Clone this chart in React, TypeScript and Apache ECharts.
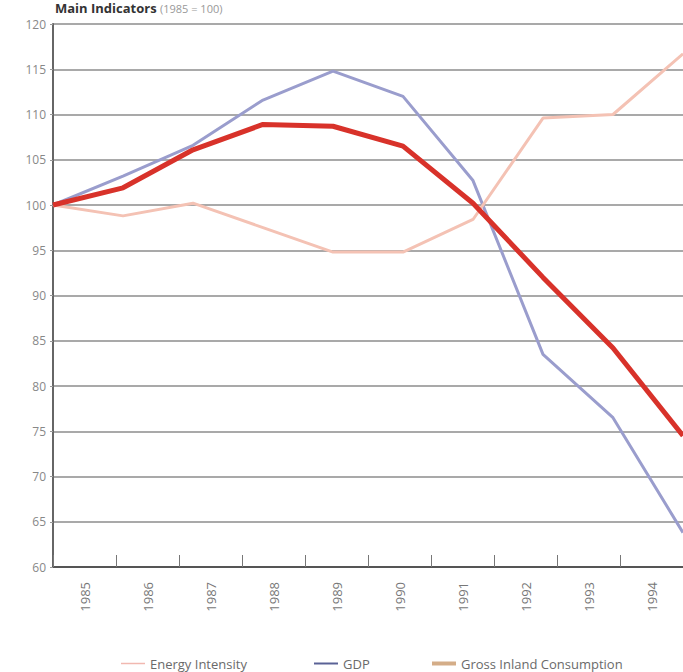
import React, { useEffect, useRef } from "react";
import * as echarts from "echarts";

const years = ["1985", "1986", "1987", "1988", "1989", "1990", "1991", "1992", "1993", "1994"];
const energyIntensity = [100, 98.8, 100.2, 97.5, 94.8, 94.8, 98.4, 109.6, 110.0, 116.7];
const gdp = [100, 103.2, 106.6, 111.6, 114.8, 112.0, 102.7, 83.5, 76.5, 63.8];
const grossInland = [100, 101.9, 106.1, 108.9, 108.7, 106.5, 100.2, 92.0, 84.2, 74.5];

const FONT = "'Open Sans', Lato, sans-serif";

export default function App() {
  const ref = useRef<HTMLDivElement>(null);
  useEffect(() => {
    if (!ref.current) return;
    const chart = echarts.init(ref.current, undefined, { renderer: "svg" });
    const legendText = { color: "#6a6a6a", fontSize: 13, fontFamily: FONT };
    chart.setOption({
      animation: false,
      backgroundColor: "#ffffff",
      textStyle: { fontFamily: FONT },
      graphic: [
        {
          type: "text",
          x: 55,
          y: 8,
          style: {
            text: "{a|Main Indicators} {b|(1985 = 100)}",
            verticalAlign: "middle",
            rich: {
              a: { fontSize: 13, fontWeight: "bold", fill: "#333", fontFamily: FONT },
              b: { fontSize: 11, fill: "#999", fontFamily: FONT },
            },
          },
        },
      ],
      legend: [
        {
          left: 116, top: 652, icon: "rect", itemWidth: 24, itemHeight: 1.5, itemGap: 10,
          textStyle: legendText, selectedMode: false,
          data: [{ name: "Energy Intensity", itemStyle: { color: "#f1b8b0" } }],
        },
        {
          left: 309, top: 652, icon: "rect", itemWidth: 24, itemHeight: 2, itemGap: 10,
          textStyle: legendText, selectedMode: false,
          data: [{ name: "GDP", itemStyle: { color: "#5a6296" } }],
        },
        {
          left: 427, top: 652, icon: "rect", itemWidth: 24, itemHeight: 4, itemGap: 10,
          textStyle: legendText, selectedMode: false,
          data: [{ name: "Gross Inland Consumption", itemStyle: { color: "#d4ad88" } }],
        },
      ],
      grid: { left: 53, right: 0, top: 24, bottom: 105, containLabel: false },
      xAxis: [
        { type: "category", data: years, boundaryGap: false, show: false },
        {
          type: "category",
          data: years,
          boundaryGap: true,
          position: "bottom",
          axisLine: { show: true, lineStyle: { color: "#555", width: 2 } },
          axisTick: { show: true, inside: true, length: 12, lineStyle: { color: "#777", width: 1 } },
          axisLabel: { rotate: 90, margin: 15, color: "#777", fontSize: 13, fontFamily: FONT },
          splitLine: { show: false },
        },
      ],
      yAxis: {
        type: "value",
        min: 60,
        max: 120,
        interval: 5,
        axisLine: { show: true, lineStyle: { color: "#666", width: 2 } },
        axisTick: { show: true, length: 3, lineStyle: { color: "#999" } },
        axisLabel: { color: "#888", fontSize: 12, margin: 7, fontFamily: FONT },
        splitLine: { show: true, lineStyle: { color: "#8c8c8c", width: 1.5 } },
      },
      series: [
        {
          name: "GDP", type: "line", xAxisIndex: 0, data: gdp, symbol: "none",
          lineStyle: { color: "#9a9dcd", width: 3 }, itemStyle: { color: "#9a9dcd" },
        },
        {
          name: "Energy Intensity", type: "line", xAxisIndex: 0, data: energyIntensity, symbol: "none",
          lineStyle: { color: "#f4c2b4", width: 3 }, itemStyle: { color: "#f4c2b4" },
        },
        {
          name: "Gross Inland Consumption", type: "line", xAxisIndex: 0, data: grossInland, symbol: "none",
          lineStyle: { color: "#d8322a", width: 5 }, itemStyle: { color: "#d8322a" },
        },
      ],
    });
    return () => chart.dispose();
  }, []);
  return (
    <div
      ref={ref}
      style={{ position: "fixed", left: 0, top: 0, width: 683, height: 672 }}
    />
  );
}
